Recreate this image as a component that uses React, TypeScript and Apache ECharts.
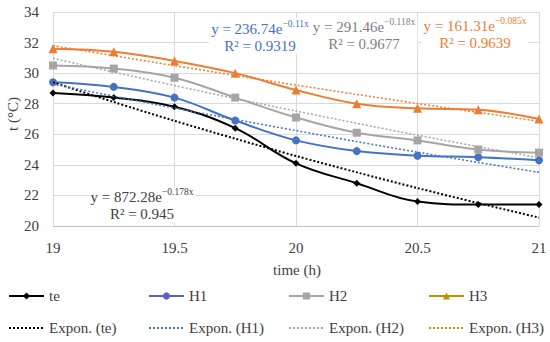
import React, { useEffect, useRef } from "react";
import * as echarts from "echarts";

const hours = [19, 19.25, 19.5, 19.75, 20, 20.25, 20.5, 20.75, 21];
const te = [28.7, 28.4, 27.8, 26.4, 24.1, 22.8, 21.6, 21.4, 21.4];
const h1 = [29.4, 29.1, 28.4, 26.9, 25.6, 24.9, 24.6, 24.5, 24.3];
const h2 = [30.5, 30.3, 29.7, 28.4, 27.1, 26.1, 25.6, 25.0, 24.8];
const h3 = [31.6, 31.4, 30.8, 30.0, 28.9, 28.0, 27.7, 27.6, 27.0];
const teTrend = [29.4, 28.11, 26.88, 25.71, 24.58, 23.51, 22.48, 21.5, 20.55];
const h1Trend = [29.29, 28.49, 27.72, 26.97, 26.24, 25.52, 24.83, 24.16, 23.51];
const h2Trend = [30.97, 30.07, 29.19, 28.34, 27.52, 26.72, 25.94, 25.19, 24.46];
const h3Trend = [31.8, 31.14, 30.49, 29.85, 29.22, 28.61, 28.01, 27.43, 26.85];
const xTicks = [19, 19.5, 20, 20.5, 21];
const yTicks = [20, 22, 24, 26, 28, 30, 32, 34];

const FONT = "'Liberation Serif', 'DejaVu Serif', serif";
const C_TE = "#000000";
const C_H1 = "#4472C4";
const C_H2 = "#A5A5A5";
const C_H3 = "#ED7D31";

const pts = (ys: number[]) => hours.map((x, i) => [x, ys[i]]);

function eqLabel(cx: number, top: number, a: string, b: string, r2: string, color: string) {
  return {
    type: "text",
    x: cx,
    y: top,
    z: 50,
    style: {
      text: `{m|y = ${a}e}{s|${b}}\n{m|R² = ${r2}}`,
      align: "center",
      verticalAlign: "top",
      fill: color,
      backgroundColor: "#ffffff",
      padding: [1, 2, 1, 2],
      rich: {
        m: { fontSize: 15, fontFamily: FONT, fill: color, lineHeight: 17, verticalAlign: "bottom" },
        s: { fontSize: 9.5, fontFamily: FONT, fill: color, lineHeight: 17, verticalAlign: "top" },
      },
    },
  };
}

export default function App() {
  const ref = useRef<HTMLDivElement>(null);
  useEffect(() => {
    document.body.style.margin = "0";
    if (!ref.current) return;
    const chart = echarts.init(ref.current, undefined, { renderer: "svg" });
    const dataLine = (name: string, ys: number[], color: string, symbol: string, size: number, width: number) => ({
      name,
      type: "line",
      data: pts(ys),
      smooth: 0.4,
      symbol,
      symbolSize: size,
      showSymbol: true,
      itemStyle: { color },
      lineStyle: { color, width },
      z: 3,
    });
    const trendLine = (name: string, ys: number[], color: string, width: number) => ({
      name,
      type: "line",
      data: pts(ys),
      smooth: 0.3,
      symbol: "none",
      itemStyle: { color },
      lineStyle: { color, width, type: [2, 2] },
      z: 4,
    });
    const legendBase = {
      orient: "vertical",
      top: 287,
      height: 60,
      padding: 0,
      itemWidth: 35,
      itemHeight: 9,
      itemGap: 14,
      textStyle: { fontFamily: FONT, fontSize: 15, lineHeight: 18, color: "#404040" },
    };
    const hide = { opacity: 0 };
    chart.setOption({
      animation: false,
      grid: { left: 53, right: 11, top: 12, bottom: 116 },
      xAxis: {
        type: "value",
        min: 19,
        max: 21,
        interval: 0.5,
        axisLine: { show: true, lineStyle: { color: "#BFBFBF" } },
        axisTick: { show: false },
        splitLine: { show: true, lineStyle: { color: "#D9D9D9" } },
        axisLabel: {
          margin: 14,
          fontFamily: FONT,
          fontSize: 15,
          color: "#404040",
          formatter: (v: number) => (xTicks.includes(v) ? String(v) : ""),
        },
      },
      yAxis: {
        type: "value",
        min: 20,
        max: 34,
        interval: 2,
        axisLine: { show: false },
        axisTick: { show: false },
        splitLine: { show: true, lineStyle: { color: "#D9D9D9" } },
        axisLabel: {
          margin: 14,
          fontFamily: FONT,
          fontSize: 15,
          color: "#404040",
          formatter: (v: number) => (yTicks.includes(v) ? String(v) : ""),
        },
      },
      legend: [
        { ...legendBase, left: 8, data: [{ name: "te" }, { name: "Expon. (te)", itemStyle: hide }] },
        {
          ...legendBase,
          left: 148,
          data: [
            { name: "H1", itemStyle: { color: "#5A5FC8" }, lineStyle: { color: "#5A5FC8" } },
            { name: "Expon. (H1)", itemStyle: hide },
          ],
        },
        { ...legendBase, left: 288, data: [{ name: "H2" }, { name: "Expon. (H2)", itemStyle: hide }] },
        {
          ...legendBase,
          left: 428,
          data: [
            { name: "H3", itemStyle: { color: "#BF9000" }, lineStyle: { color: "#BF9000" } },
            { name: "Expon. (H3)", itemStyle: hide, lineStyle: { color: "#BF9000" } },
          ],
        },
      ],
      series: [
        dataLine("te", te, C_TE, "diamond", 7, 2),
        dataLine("H1", h1, C_H1, "circle", 8, 2),
        dataLine("H2", h2, C_H2, "rect", 8, 2),
        dataLine("H3", h3, C_H3, "triangle", 9, 2),
        trendLine("Expon. (te)", teTrend, C_TE, 2),
        trendLine("Expon. (H1)", h1Trend, C_H1, 1.5),
        trendLine("Expon. (H2)", h2Trend, C_H2, 1.5),
        trendLine("Expon. (H3)", h3Trend, C_H3, 1.5),
      ],
      graphic: [
        {
          type: "text",
          x: 13,
          y: 114,
          rotation: Math.PI / 2,
          style: {
            text: "t (°C)",
            align: "center",
            verticalAlign: "middle",
            fontFamily: FONT,
            fontSize: 15,
            fill: "#404040",
          },
        },
        {
          type: "text",
          x: 297,
          y: 270,
          style: {
            text: "time (h)",
            align: "center",
            verticalAlign: "middle",
            fontFamily: FONT,
            fontSize: 15,
            fill: "#404040",
          },
        },
        eqLabel(260, 18, "236.74", "−0.11x", "0.9319", C_H1),
        eqLabel(364, 16, "291.46", "−0.118x", "0.9677", "#7F7F7F"),
        eqLabel(475, 15, "161.31", "−0.085x", "0.9639", C_H3),
        eqLabel(142, 186, "872.28", "−0.178x", "0.945", "#404040"),
      ],
    });
    return () => chart.dispose();
  }, []);
  return <div ref={ref} style={{ width: 550, height: 342 }} />;
}
